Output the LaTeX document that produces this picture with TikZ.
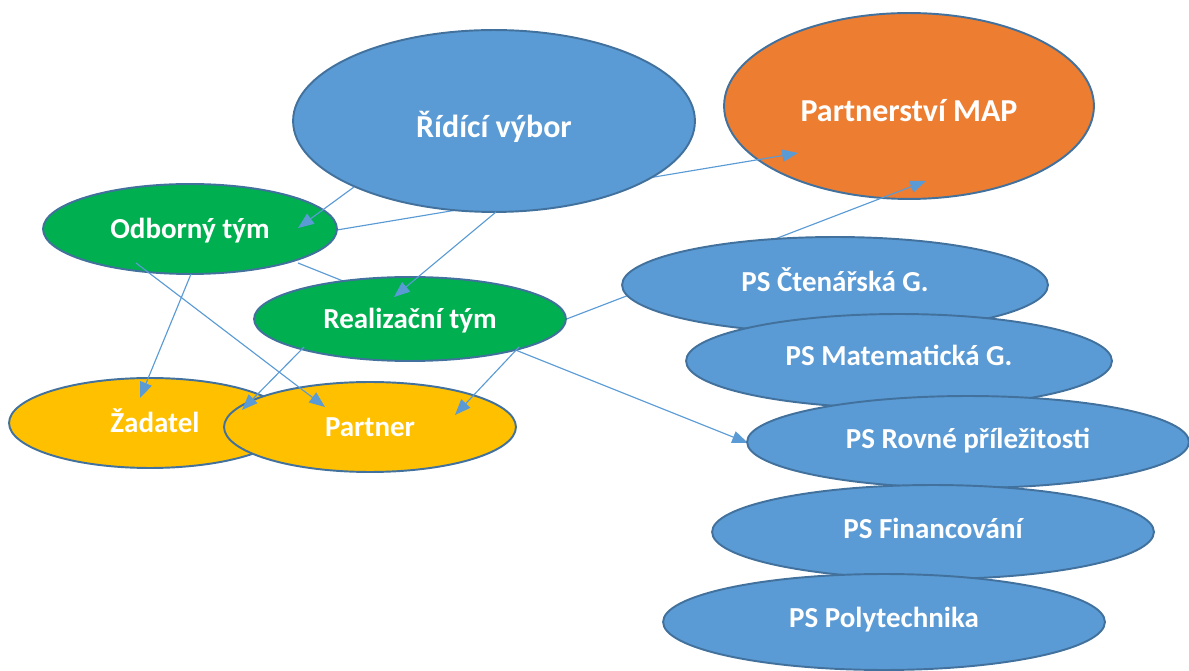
\documentclass[tikz,border=0pt]{standalone}
\usepackage{fontspec}
\setmainfont{Carlito}
\usetikzlibrary{shapes.geometric,arrows.meta,calc}
\pgfdeclarelayer{bg}
\pgfdeclarelayer{mid}
\pgfsetlayers{bg,mid,main}
\definecolor{pblue}{HTML}{5B9BD5}
\definecolor{pborder}{HTML}{41719C}
\definecolor{pgreen}{HTML}{00B050}
\definecolor{porange}{HTML}{ED7D31}
\definecolor{pyellow}{HTML}{FFC000}
\tikzset{
  el/.style n args={3}{ellipse, draw=pborder, line width=1.1pt, fill=#3, inner sep=0pt,
    minimum width={#1*0.04cm}, minimum height={#2*0.04cm}, text=white,
    font=\fontsize{16.5}{20}\selectfont\bfseries, text depth=4pt, ts={0}},
  ts/.style={text height={14.4pt+#1*1.138pt}},
  bigtext/.style={font=\fontsize{18.2}{22}\selectfont\bfseries},
  tsb/.style={text height={15.5pt+#1*1.138pt}},
  conn/.style={draw=pblue, line width=0.65pt, -{Triangle[length=9pt,width=7pt,fill=pblue]}}
}
\begin{document}
\begin{tikzpicture}[x=0.02cm,y=-0.02cm]
\useasboundingbox (0,0) rectangle (1189,671);
% orange node at the back
\begin{pgfonlayer}{bg}
\node[el={185}{93}{porange}, bigtext, tsb={5}] (pm) at (909,106) {Partnerství MAP};
\end{pgfonlayer}
% main nodes
\node[el={201}{91}{pblue}, bigtext, tsb={6}] (rv) at (494,121) {Řídící výbor};
\node[el={147}{45}{pgreen}] (od) at (190,229) {Odborný tým};
\node[el={156}{42}{pgreen}] (rt) at (410,319) {Realizační tým};
\node[el={141}{45}{pyellow}] (za) at (150,423) {\hspace*{5.7pt}Žadatel};
\node[el={146}{45}{pyellow}] (pa) at (370,427) {Partner};
\node[el={213}{48}{pblue}, ts={-3}] (c1) at (835,285) {PS Čtenářská G.};
\node[el={213}{47}{pblue}, ts={-5}] (c2) at (899,361) {PS Matematická G.};
\node[el={221}{46}{pblue}, ts={-3}] (c3) at (968,442) {PS Rovné příležitosti};
\node[el={221}{47}{pblue}, ts={-3}] (c4) at (933,532) {PS Financování};
\node[el={221}{48}{pblue}, ts={-3.5}] (c5) at (884,622) {PS Polytechnika};
% connectors running behind nodes
\begin{pgfonlayer}{mid}
\draw[conn] ($(od)+(147,1)$) -- ($(pm)+(-111,47)$);
\draw[conn] ($(od)+(108,34)$) -- ($(c3)+(-220,1)$);
\draw[conn] ($(rt)+(154,1)$) -- ($(pm)+(17,75)$);
\end{pgfonlayer}
% connectors in front
\draw[conn] ($(rv)+(-140,66)$) -- ($(od)+(108,-1)$);
\draw[conn] ($(rv)+(2,91)$) -- ($(rt)+(-16,-22)$);
\draw[conn] ($(od)+(1,45)$) -- ($(za)+(-10,-25)$);
\draw[conn] ($(od)+(-54,34)$) -- ($(pa)+(-45,-20)$);
\draw[conn] ($(rt)+(-106,28)$) -- ($(za)+(92,-13)$);
\draw[conn] ($(rt)+(109,28)$) -- ($(pa)+(85,-12)$);
\end{tikzpicture}
\end{document}
